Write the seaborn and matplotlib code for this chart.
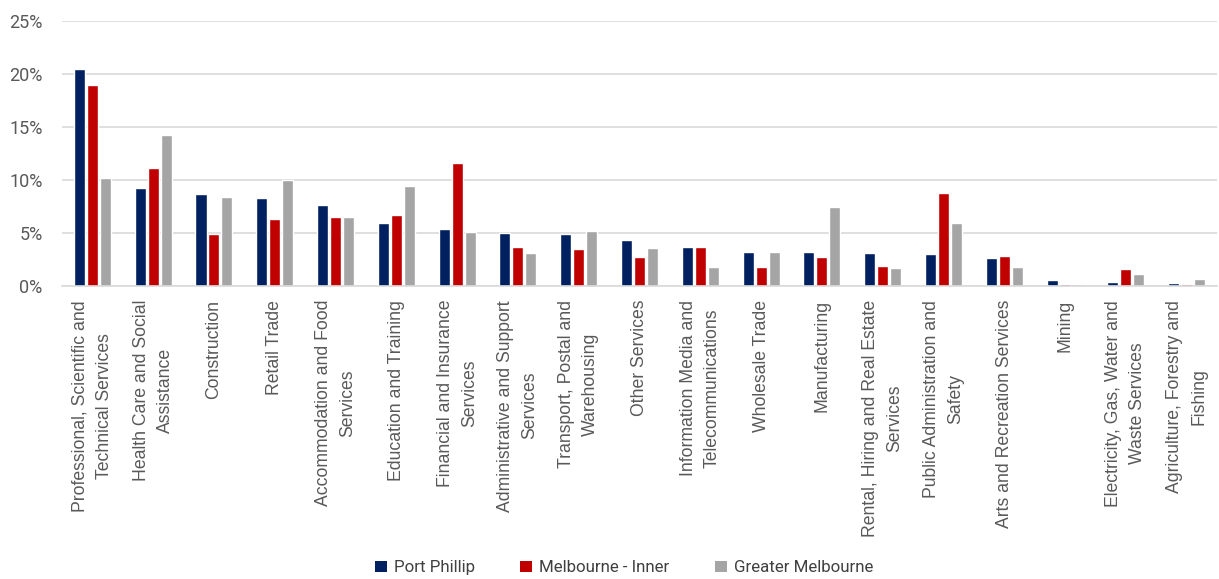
import matplotlib
matplotlib.use("Agg")
import matplotlib.pyplot as plt
import seaborn as sns
import pandas as pd
from matplotlib.patches import Patch
from matplotlib.ticker import FuncFormatter, MultipleLocator

categories = [
    "Professional, Scientific and\nTechnical Services",
    "Health Care and Social\nAssistance",
    "Construction",
    "Retail Trade",
    "Accommodation and Food\nServices",
    "Education and Training",
    "Financial and Insurance\nServices",
    "Administrative and Support\nServices",
    "Transport, Postal and\nWarehousing",
    "Other Services",
    "Information Media and\nTelecommunications",
    "Wholesale Trade",
    "Manufacturing",
    "Rental, Hiring and Real Estate\nServices",
    "Public Administration and\nSafety",
    "Arts and Recreation Services",
    "Mining",
    "Electricity, Gas, Water and\nWaste Services",
    "Agriculture, Forestry and\nFishing",
]
series_names = ["Port Phillip", "Melbourne - Inner", "Greater Melbourne"]
port_phillip = [20.5, 9.2, 8.7, 8.3, 7.6, 5.9, 5.4, 5.0, 4.9, 4.3, 3.7, 3.2, 3.2, 3.1, 3.0, 2.6, 0.6, 0.4, 0.3]
melbourne_inner = [19.0, 11.1, 4.9, 6.3, 6.5, 6.7, 11.6, 3.7, 3.5, 2.7, 3.7, 1.8, 2.7, 1.9, 8.8, 2.8, 0.2, 1.6, 0.2]
greater_melbourne = [10.2, 14.2, 8.4, 10.0, 6.5, 9.4, 5.1, 3.1, 5.2, 3.6, 1.8, 3.2, 7.5, 1.7, 5.9, 1.8, 0.2, 1.1, 0.7]
colors = ["#002060", "#C00000", "#A5A5A5"]

rows = []
for vals, name in zip([port_phillip, melbourne_inner, greater_melbourne], series_names):
    for c, v in zip(categories, vals):
        rows.append({"Industry": c, "Region": name, "Share": v})
df = pd.DataFrame(rows)

sns.set_style("white")
fig = plt.figure(figsize=(12.19, 5.79), dpi=100)
ax = fig.add_axes([62 / 1219, 1 - 286 / 579, (1217 - 62) / 1219, (286 - 21) / 579])

sns.barplot(data=df, x="Industry", y="Share", hue="Region", order=categories,
            hue_order=series_names, palette=colors, width=0.64, gap=0.15,
            saturation=1, legend=False, ax=ax, errorbar=None)

ax.set_ylim(0, 25)
ax.set_xlim(-0.5, len(categories) - 0.5)
ax.yaxis.set_major_locator(MultipleLocator(5))
ax.yaxis.set_major_formatter(FuncFormatter(lambda v, p: f"{int(v)}%"))
ax.grid(axis="y", color="#D9D9D9", linewidth=1.2)
ax.set_axisbelow(True)
for s in ["top", "right", "left"]:
    ax.spines[s].set_visible(False)
ax.spines["bottom"].set_color("#D9D9D9")
ax.spines["bottom"].set_linewidth(1.2)
ax.set_xlabel("")
ax.set_ylabel("")
ax.tick_params(axis="both", length=0)
ax.tick_params(axis="y", pad=14, labelcolor="#595959")
for lbl in ax.get_yticklabels():
    lbl.set_fontfamily("Roboto")
    lbl.set_fontsize(13)

ax.set_xticks(range(len(categories)))
ax.set_xticklabels(categories, rotation=90, ha="center", va="top",
                   fontsize=12.7, color="#595959", fontfamily="Liberation Sans",
                   linespacing=1.55, multialignment="center")
ax.tick_params(axis="x", pad=10)

handles = [Patch(facecolor=c, edgecolor="none") for c in colors]
fig.legend(handles, series_names, loc="center", bbox_to_anchor=(0.512, 0.019),
           ncol=3, frameon=False, handlelength=0.7, handleheight=0.7,
           handletextpad=0.4, columnspacing=2.7,
           prop={"family": "Roboto", "size": 12.2}, labelcolor="#404040")

fig.savefig("out.png", dpi=100)
